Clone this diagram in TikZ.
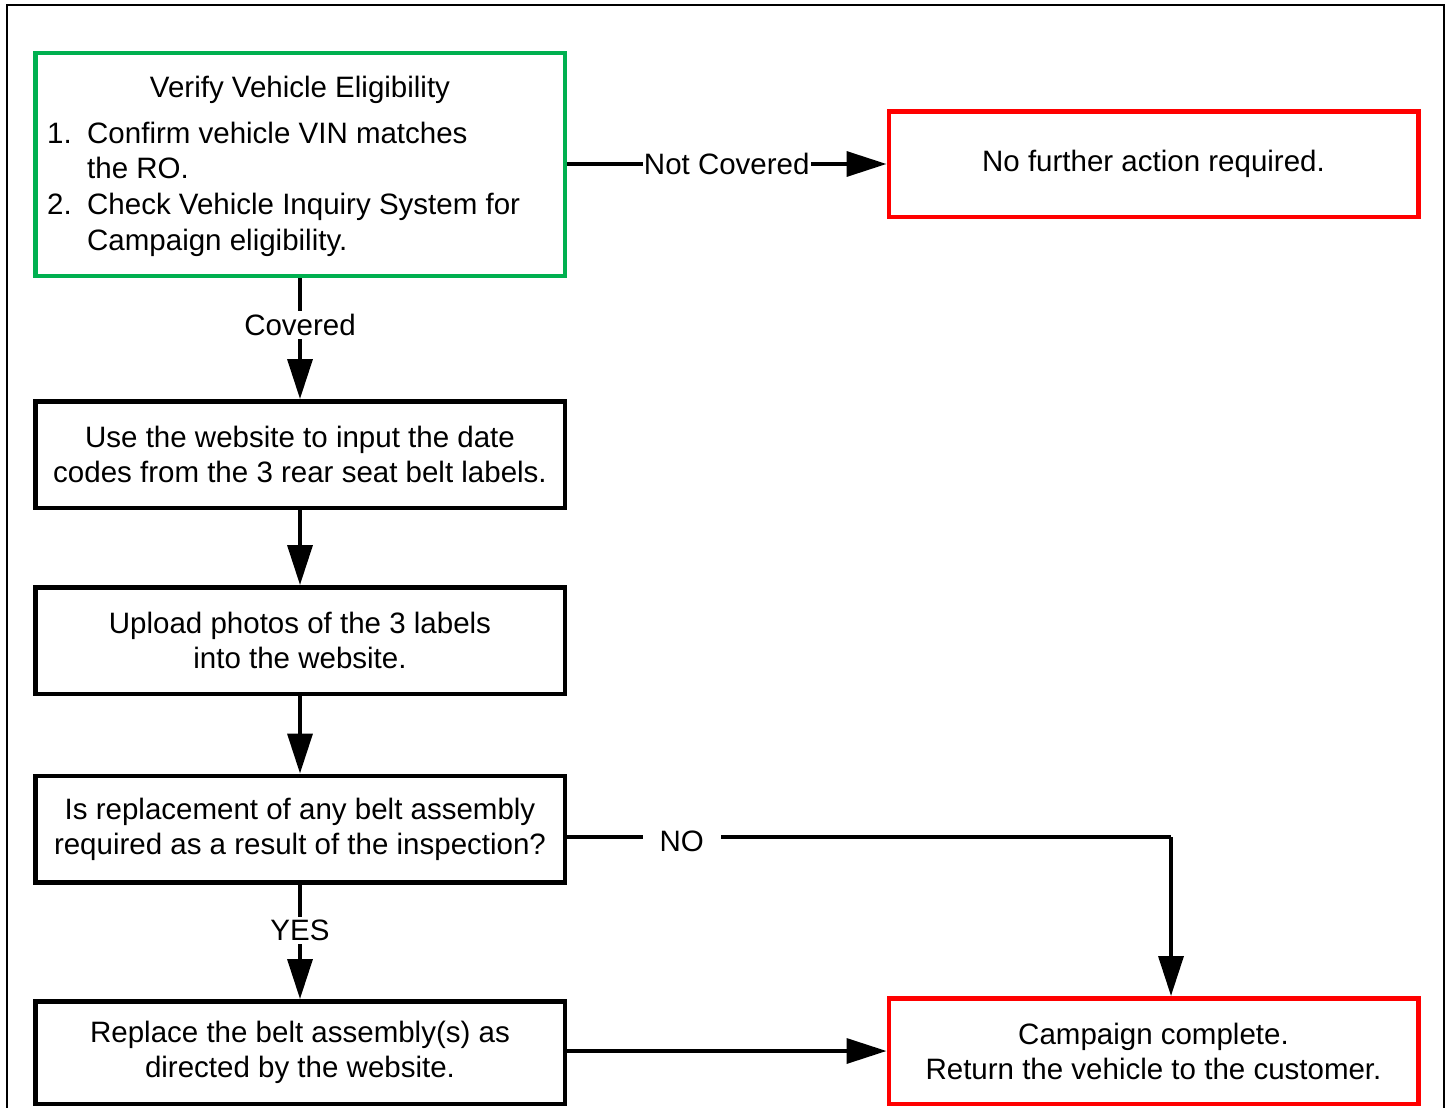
\documentclass[tikz,border=0pt]{standalone}
\usepackage{fontspec}
\setmainfont{Liberation Sans}
\usetikzlibrary{arrows.meta}
\definecolor{boxgreen}{RGB}{0,176,80}
\definecolor{boxred}{RGB}{255,0,0}
\begin{document}
\begin{tikzpicture}[x=1pt,y=-1pt,
  every node/.style={font=\fontsize{29.5}{35}\selectfont},
  box/.style={draw=black, line width=4.5pt, minimum width=529.5pt, minimum height=106.5pt, align=center, inner sep=0pt},
  greenbox/.style={box, draw=boxgreen},
  redbox/.style={box, draw=boxred},
  conn/.style={line width=3.5pt},
  tip/.style={-{Triangle[length=40pt,width=25pt]}},
  lbl/.style={fill=white, inner sep=1pt}
]
\useasboundingbox (0,0) rectangle (1449,1108);
\begin{scope}
\clip (0,0) rectangle (1449,1108);
\draw[line width=2pt] (6.5,5.5) rectangle (1444,1130);
\end{scope}

% boxes
\node[greenbox, minimum height=222.5pt] (v) at (300,164.5) {};
\node[anchor=base] (vt) at (300,97) {Verify Vehicle Eligibility};
\node[anchor=base west, inner sep=0pt] (n1) at (47,143) {1.};
\node[anchor=base west, inner sep=0pt] (l1) at (87,143) {Confirm vehicle VIN matches};
\node[anchor=base west, inner sep=0pt] (l1b) at (87,178) {the RO.};
\node[anchor=base west, inner sep=0pt] (n2) at (47,214) {2.};
\node[anchor=base west, inner sep=0pt] (l2) at (87,214) {Check Vehicle Inquiry System for};
\node[anchor=base west, inner sep=0pt] (l2b) at (87,250) {Campaign eligibility.};

\node[redbox, minimum height=105.5pt] (nf) at (1153.5,164) {No further action required.};
\node[box] (b2) at (300,454.5) {Use the website to input the date\\codes from the 3 rear seat belt labels.};
\node[box] (b3) at (300,640.5) {Upload photos of the 3 labels\\into the website.};
\node[box] (b4) at (300,829) {Is replacement of any belt assembly\\required as a result of the inspection?};
\node[box, minimum height=102.5pt] (b5) at (300,1052.5) {Replace the belt assembly(s) as\\directed by the website.};
\node[redbox, minimum height=105.5pt] (cc) at (1153.5,1051) {Campaign complete.\\Return the vehicle to the customer.};

% connectors
\draw[conn, tip] (v.east |- nf.west) -- node[lbl] (lnc) {Not Covered} (nf.west);
\draw[conn, tip] (v.south) -- node[lbl, inner ysep=3pt, pos=0.39] (lcov) {Covered} (b2.north);
\draw[conn, tip] (b2.south) -- (b3.north);
\draw[conn, tip] (b3.south) -- (b4.north);
\draw[conn, tip] (b4.south) -- node[lbl, inner ysep=3pt, pos=0.4] (lyes) {YES} (b5.north);
\coordinate (nocorner) at (1171,837);
\draw[conn] (b4.east |- nocorner) -- node[lbl, inner xsep=17pt, pos=0.19, yshift=-4pt] (lno) {NO} (nocorner);
\draw[conn, tip] (nocorner) -- (nocorner |- cc.north);
\draw[conn, tip] (b5.east |- cc.west) -- (cc.west);
\end{tikzpicture}
\end{document}
